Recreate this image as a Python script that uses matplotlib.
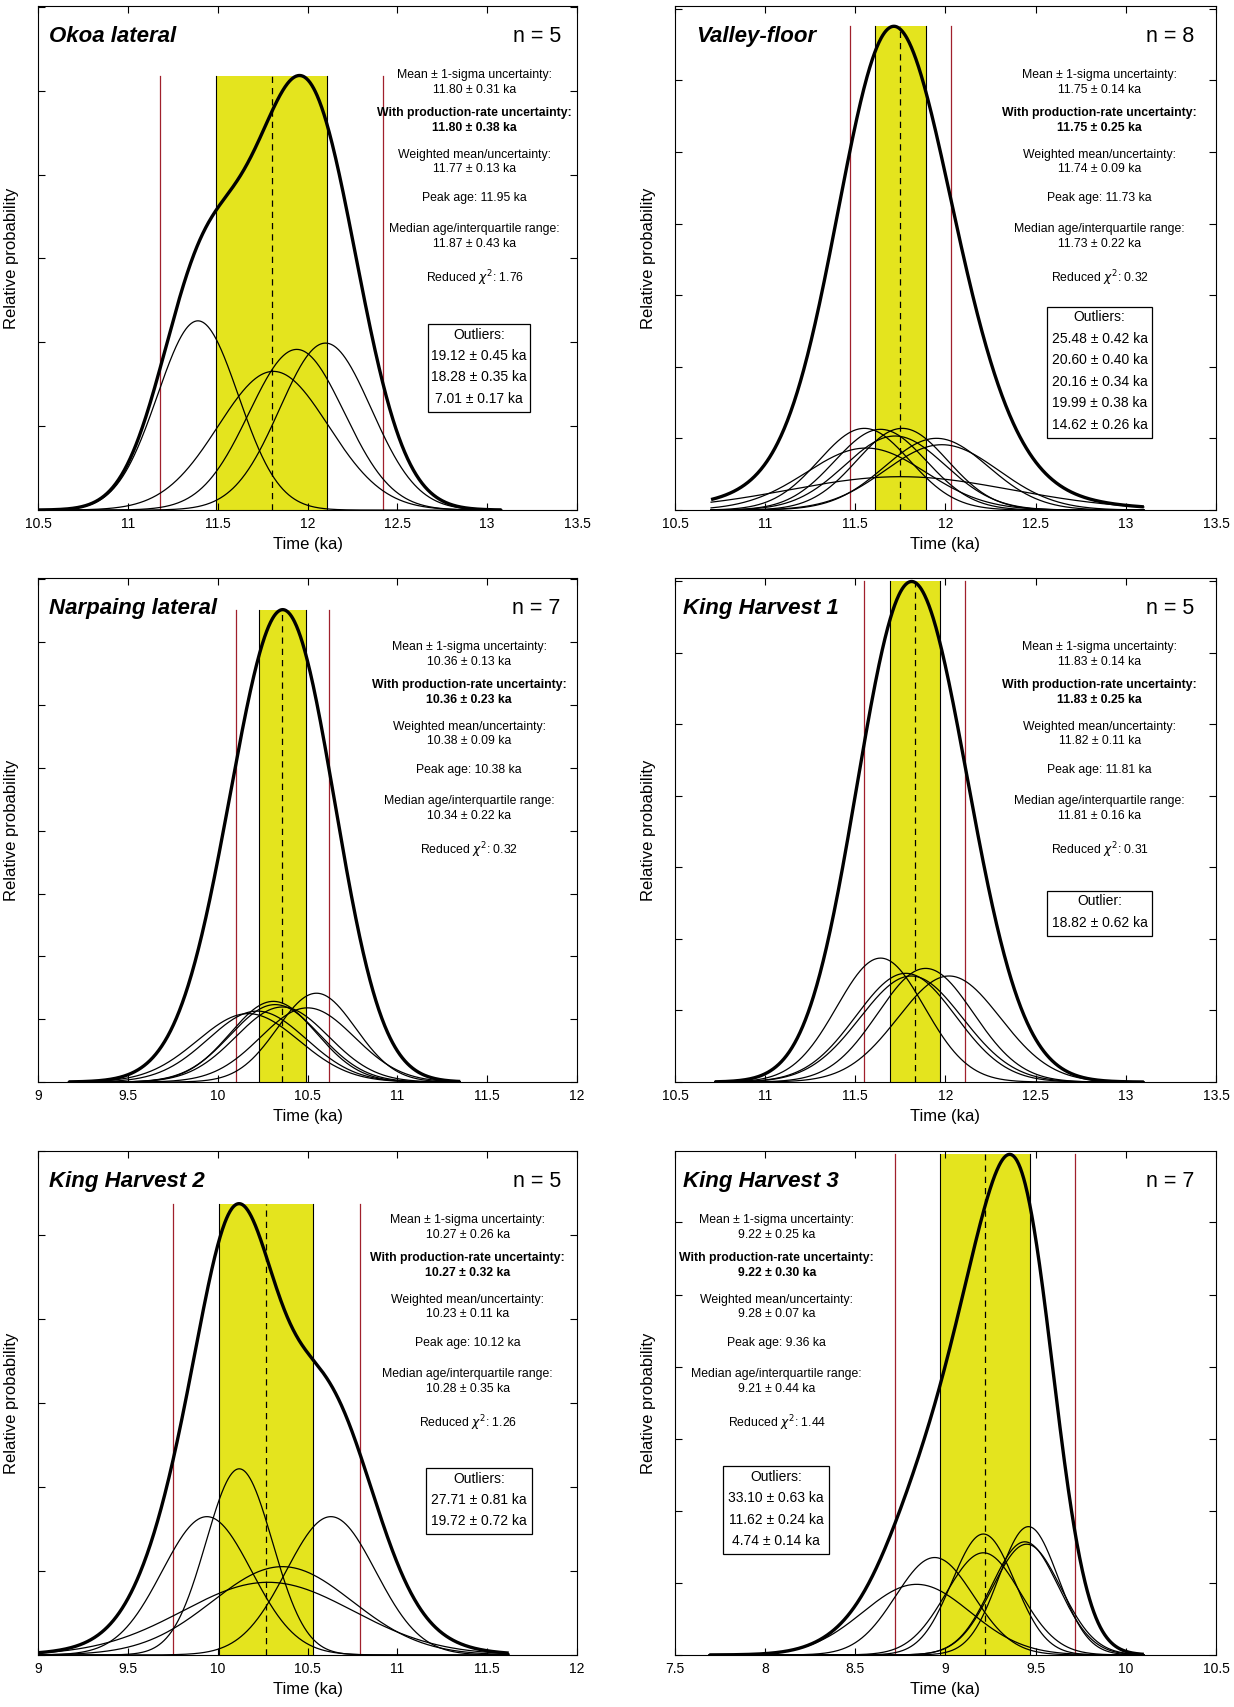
import numpy as np
import matplotlib
matplotlib.use("Agg")
import matplotlib.pyplot as plt
from matplotlib.patches import Rectangle
from matplotlib.ticker import MultipleLocator, FuncFormatter

plt.rcParams['font.family'] = ['Liberation Sans', 'DejaVu Sans']

names = ["Okoa lateral", "Valley-floor", "Narpaing lateral",
         "King Harvest 1", "King Harvest 2", "King Harvest 3"]
n_samples = [5, 8, 7, 5, 5, 7]
xlims = [(10.5, 13.5), (10.5, 13.5), (9, 12), (10.5, 13.5), (9, 12), (7.5, 10.5)]
t_ranges = [(10.5, 13.08), (10.70, 13.10), (9.17, 11.35),
            (10.72, 13.10), (9.0, 11.62), (7.69, 10.10)]

# sample ages (ka) and 1-sigma widths of the single-sample probability curves
ages = [
    [11.39, 11.81, 11.94, 12.10],
    [11.55, 11.64, 11.76, 11.72, 11.95, 11.98, 11.56, 11.75],
    [10.17, 10.22, 10.31, 10.32, 10.36, 10.50, 10.55],
    [11.64, 11.78, 11.81, 11.89, 12.02],
    [9.94, 10.12, 10.36, 10.28, 10.63],
    [8.84, 8.94, 9.21, 9.21, 9.46, 9.44, 9.45],
]
sigmas = [
    [0.225, 0.307, 0.265, 0.255],
    [0.252, 0.255, 0.252, 0.278, 0.287, 0.315, 0.332, 0.617],
    [0.283, 0.273, 0.240, 0.250, 0.258, 0.261, 0.218],
    [0.243, 0.277, 0.284, 0.265, 0.284],
    [0.249, 0.185, 0.390, 0.474, 0.249],
    [0.298, 0.216, 0.174, 0.206, 0.164, 0.186, 0.190],
]

means = [11.80, 11.75, 10.36, 11.83, 10.27, 9.22]
sds = [0.31, 0.14, 0.13, 0.14, 0.26, 0.25]
ext_unc = [0.38, 0.25, 0.23, 0.25, 0.32, 0.30]
wmeans = [11.77, 11.74, 10.38, 11.82, 10.23, 9.28]
wuncs = [0.13, 0.09, 0.09, 0.11, 0.11, 0.07]
peaks = [11.95, 11.73, 10.38, 11.81, 10.12, 9.36]
medians = [11.87, 11.73, 10.34, 11.81, 10.28, 9.21]
iqrs = [0.43, 0.22, 0.22, 0.16, 0.35, 0.44]
chi2 = [1.76, 0.32, 0.32, 0.31, 1.26, 1.44]

outliers = [
    [(19.12, 0.45), (18.28, 0.35), (7.01, 0.17)],
    [(25.48, 0.42), (20.60, 0.40), (20.16, 0.34), (19.99, 0.38), (14.62, 0.26)],
    [],
    [(18.82, 0.62)],
    [(27.71, 0.81), (19.72, 0.72)],
    [(33.10, 0.63), (11.62, 0.24), (4.74, 0.14)],
]

# layout
ax_pos = [(0.0308, 0.7012, 0.4368), (0.547, 0.7012, 0.4384),
          (0.0308, 0.3661, 0.4368), (0.547, 0.3661, 0.4384),
          (0.0308, 0.0305, 0.4368), (0.547, 0.0305, 0.4384)]
ax_h = 0.2953
y_top = [1.16, 1.042, 1.067, 1.007, 1.117, 1.007]
y_step = [0.193, 0.148, 0.133, 0.143, 0.186, 0.144]
title_x = [0.021, 0.040, 0.021, 0.014, 0.021, 0.014]
n_x = [0.97, 0.96, 0.97, 0.96, 0.97, 0.96]
stats_x = [0.81, 0.785, 0.80, 0.785, 0.797, 0.188]
box_x = [0.818, 0.785, None, 0.785, 0.818, 0.187]
box_w = [0.19, 0.195, None, 0.195, 0.197, 0.195]
box_top = [0.369, 0.403, None, 0.38, 0.371, 0.374]
line_y = [0.863, 0.834, 0.787, 0.757, 0.705, 0.676, 0.619, 0.557, 0.527, 0.460]

YEL = '#e4e41e'
RED = '#a0202c'

fig = plt.figure(figsize=(12.34, 17.07), dpi=100)

for i in range(6):
    x0, y0, w = ax_pos[i]
    ax = fig.add_axes([x0, y0, w, ax_h])
    t = np.linspace(t_ranges[i][0], t_ranges[i][1], 800)
    curves = [np.exp(-0.5 * ((t - a) / s) ** 2) / (s * np.sqrt(2 * np.pi))
              for a, s in zip(ages[i], sigmas[i])]
    total = np.sum(curves, axis=0)
    top = total.max()
    m, s = means[i], sds[i]

    # 1-sigma band, 2-sigma lines, mean
    ax.add_patch(Rectangle((m - s, 0), 2 * s, top, facecolor=YEL,
                           edgecolor='none', zorder=1))
    for xv in (m - s, m + s):
        ax.plot([xv, xv], [0, top], color='black', lw=0.8, zorder=2)
    for xv in (m - 2 * s, m + 2 * s):
        ax.plot([xv, xv], [0, top], color=RED, lw=0.9, zorder=2)
    ax.plot([m, m], [0, top], color='black', lw=0.9, dashes=(5, 4), zorder=3)
    for cv in curves:
        ax.plot(t, cv, color='black', lw=0.9, zorder=4)
    ax.plot(t, total, color='black', lw=2.4, zorder=5, solid_capstyle='butt')

    ax.set_xlim(*xlims[i])
    ax.set_ylim(0, top * y_top[i])
    ax.xaxis.set_major_locator(MultipleLocator(0.5))
    ax.xaxis.set_major_formatter(FuncFormatter(lambda v, p: "%g" % v))
    ax.set_yticks(np.arange(0, y_top[i], y_step[i]) * top)
    ax.tick_params(direction='in', top=True, right=True, length=5, width=0.8,
                   labelleft=False, labelsize=10, pad=5)
    for sp in ax.spines.values():
        sp.set_linewidth(0.8)
    ax.set_xlabel("Time (ka)", fontsize=12)
    ax.set_ylabel("Relative probability", fontsize=12)
    ax.xaxis.set_label_coords(0.5, -0.054)
    ax.yaxis.set_label_coords(-0.036, 0.5)

    tr = ax.transAxes
    ax.text(title_x[i], 0.94, names[i], transform=tr, fontsize=16,
            fontweight='bold', fontstyle='italic', va='center', ha='left')
    ax.text(n_x[i], 0.94, "n = %d" % n_samples[i], transform=tr, fontsize=15.5,
            va='center', ha='right')

    lines = [
        ("Mean \u00b1 1-sigma uncertainty:", 'normal'),
        ("%.2f \u00b1 %.2f ka" % (means[i], sds[i]), 'normal'),
        ("With production-rate uncertainty:", 'bold'),
        ("%.2f \u00b1 %.2f ka" % (means[i], ext_unc[i]), 'bold'),
        ("Weighted mean/uncertainty:", 'normal'),
        ("%.2f \u00b1 %.2f ka" % (wmeans[i], wuncs[i]), 'normal'),
        ("Peak age: %.2f ka" % peaks[i], 'normal'),
        ("Median age/interquartile range:", 'normal'),
        ("%.2f \u00b1 %.2f ka" % (medians[i], iqrs[i]), 'normal'),
        (r"Reduced $\chi^2$: %.2f" % chi2[i], 'normal'),
    ]
    for (txt, fw), yy in zip(lines, line_y):
        ax.text(stats_x[i], yy, txt, transform=tr, fontsize=8.8, fontweight=fw,
                ha='center', va='center')

    if outliers[i]:
        head = "Outliers:" if len(outliers[i]) > 1 else "Outlier:"
        rows = [head] + ["%.2f \u00b1 %.2f ka" % o for o in outliers[i]]
        ya = box_top[i] - 0.021
        for k, r in enumerate(rows):
            ax.text(box_x[i], ya - k * 0.0425, r, transform=tr, fontsize=10,
                    ha='center', va='center')
        bottom = ya - (len(rows) - 1) * 0.0425 - 0.026
        ax.add_patch(Rectangle((box_x[i] - box_w[i] / 2, bottom), box_w[i],
                               box_top[i] - bottom, transform=tr, fill=False,
                               edgecolor='black', lw=0.9, zorder=6))

fig.savefig("out.png", dpi=100)
